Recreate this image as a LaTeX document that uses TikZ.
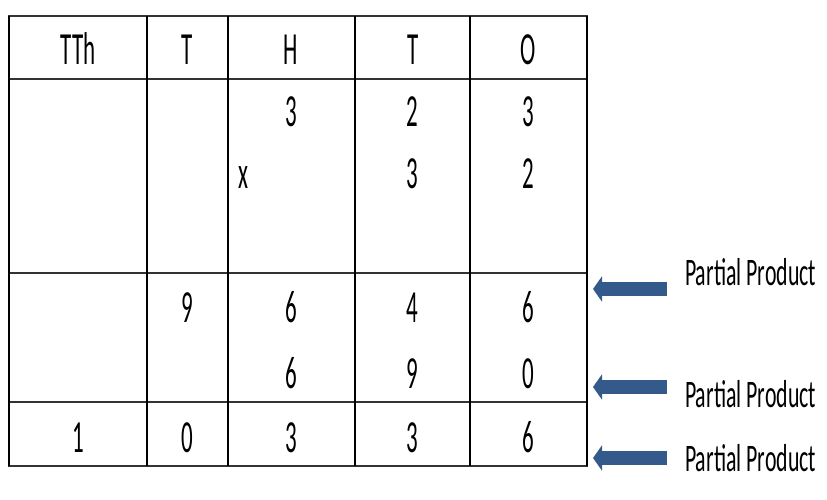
\documentclass[tikz,border=0pt]{standalone}
\usepackage{fontspec}
\setmainfont{Carlito}
\usetikzlibrary{arrows.meta}
\definecolor{ppblue}{RGB}{52,90,140}
\newcommand{\cellfont}{\fontsize{46}{46}\selectfont}
\newcommand{\notefont}{\fontsize{39}{39}\selectfont}

\begin{document}
\begin{tikzpicture}[x=1pt,y=-1pt,
    hline/.style={line width=2.4pt,black!80},
    vline/.style={line width=1.2pt,black},
    cell/.style={font=\cellfont,xscale=0.5,inner sep=0pt,anchor=base},
    note/.style={font=\notefont,xscale=0.56,inner sep=0pt,anchor=base west},
    pp arrow/.style={line width=14pt,ppblue,-{Triangle[length=9pt,width=25pt]}}]

        \useasboundingbox (0,0) rectangle (827,500);

        \foreach \y in {16,79,273,402,466}
            \draw[hline] (8,\y) -- (588,\y);
        \foreach \x in {9,147,228,355,470,587}
            \draw[vline] (\x,16) -- (\x,466);

        \node[cell] (h1) at (78,65) {TTh};
        \node[cell] (h2) at (187,65) {T};
        \node[cell] (h3) at (291,65) {H};
        \node[cell] (h4) at (413,65) {T};
        \node[cell] (h5) at (528,65) {O};

        \node[cell] (m3) at (291,127) {3};
        \node[cell] (m4) at (412,127) {2};
        \node[cell] (m5) at (528,127) {3};

        \node[cell] (times) at (243,188) {x};
        \node[cell] (n4) at (412,188) {3};
        \node[cell] (n5) at (528,188) {2};

        \node[cell] (p2) at (187,322) {9};
        \node[cell] (p3) at (291,322) {6};
        \node[cell] (p4) at (412,322) {4};
        \node[cell] (p5) at (528,322) {6};

        \node[cell] (q3) at (291,388) {6};
        \node[cell] (q4) at (412,388) {9};
        \node[cell] (q5) at (528,388) {0};

        \node[cell] (s1) at (78,452) {1};
        \node[cell] (s2) at (187,452) {0};
        \node[cell] (s3) at (291,452) {3};
        \node[cell] (s4) at (412,452) {3};
        \node[cell] (s5) at (528,452) {6};

        \node[note] (pp1) at (685,285) {Partial Product};
        \node[note] (pp2) at (685,407) {Partial Product};
        \node[note] (pp3) at (685,471) {Partial Product};

        \coordinate (a1) at (667,289);
        \coordinate (b1) at (593,289);
        \coordinate (a2) at (667,387);
        \coordinate (b2) at (593,387);
        \coordinate (a3) at (667,458);
        \coordinate (b3) at (593,458);

        \draw[pp arrow] (a1) -- (b1);
        \draw[pp arrow] (a2) -- (b2);
        \draw[pp arrow] (a3) -- (b3);
\end{tikzpicture}
\end{document}
